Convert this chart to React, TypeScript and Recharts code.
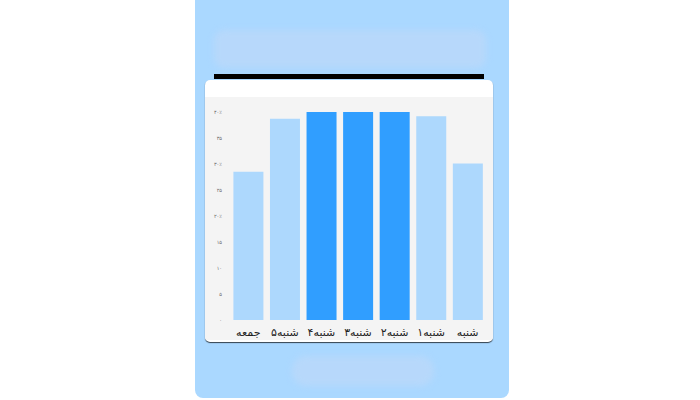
import React from 'react';
import { BarChart, Bar, XAxis, YAxis, Cell } from 'recharts';

// days in data order (chart is drawn right-to-left)
const days = ['شنبه', '۱شنبه', '۲شنبه', '۳شنبه', '۴شنبه', '۵شنبه', 'جمعه'];
const values = [30.1, 39.2, 40, 40, 40, 38.7, 28.5];
const highlighted = [false, false, true, true, true, false, false];
const yTicks = [0, 5, 10, 15, 20, 25, 30, 35, 40];

const faDigits = '۰۱۲۳۴۵۶۷۸۹';
const toFa = (n: number) => String(n).replace(/\d/g, (d) => faDigits[Number(d)]);

const data = days.map((day, i) => ({ day, value: values[i], hot: highlighted[i] }));

const formatTick = (v: number) => (v !== 0 && v % 10 === 0 && v !== 10 ? toFa(v) + '٪' : toFa(v));

export default function App() {
  return (
    <div style={{ position: 'absolute', left: 0, top: 0, width: 700, height: 400, background: '#fff', overflow: 'hidden' }}>
      {/* phone-like panel */}
      <div
        style={{
          position: 'absolute',
          left: 195,
          top: -10,
          width: 314,
          height: 408,
          background: '#aad8ff',
          borderRadius: 8,
        }}
      />
      <div
        style={{
          position: 'absolute',
          left: 214,
          top: 30,
          width: 272,
          height: 38,
          background: '#b7d8fb',
          borderRadius: 10,
          filter: 'blur(3px)',
        }}
      />
      <div style={{ position: 'absolute', left: 214, top: 74, width: 270, height: 5, background: '#000' }} />
      <div
        style={{
          position: 'absolute',
          left: 292,
          top: 356,
          width: 142,
          height: 30,
          background: '#b7d8fb',
          borderRadius: 14,
          filter: 'blur(3px)',
        }}
      />

      {/* card */}
      <div
        style={{
          position: 'absolute',
          left: 205,
          top: 80,
          width: 288,
          height: 262,
          background: '#fff',
          borderRadius: 5,
          boxShadow: '0 1px 1px rgba(0,0,0,0.7)',
          overflow: 'hidden',
        }}
      >
        <div style={{ position: 'absolute', left: 0, top: 17, width: 288, height: 243, background: '#f4f4f4' }}>
          <BarChart
            width={288}
            height={243}
            data={data}
            margin={{ top: 15, right: 7, left: 0, bottom: 2 }}
            barCategoryGap={3.4}
          >
            <XAxis
              dataKey="day"
              reversed
              axisLine={false}
              tickLine={false}
              interval={0}
              height={18}
              tick={{ fontSize: 11, fill: '#222', fontFamily: 'DejaVu Sans' }}
              tickMargin={2}
            />
            <YAxis
              domain={[0, 40]}
              ticks={yTicks}
              width={25}
              axisLine={false}
              tickLine={false}
              tickFormatter={formatTick}
              tick={{ fontSize: 5, fill: '#666', fontFamily: 'DejaVu Sans' }}
            />
            <Bar dataKey="value" isAnimationActive={false}>
              {data.map((d, i) => (
                <Cell key={i} fill={d.hot ? '#309eff' : '#add8fd'} />
              ))}
            </Bar>
          </BarChart>
        </div>
      </div>
    </div>
  );
}
